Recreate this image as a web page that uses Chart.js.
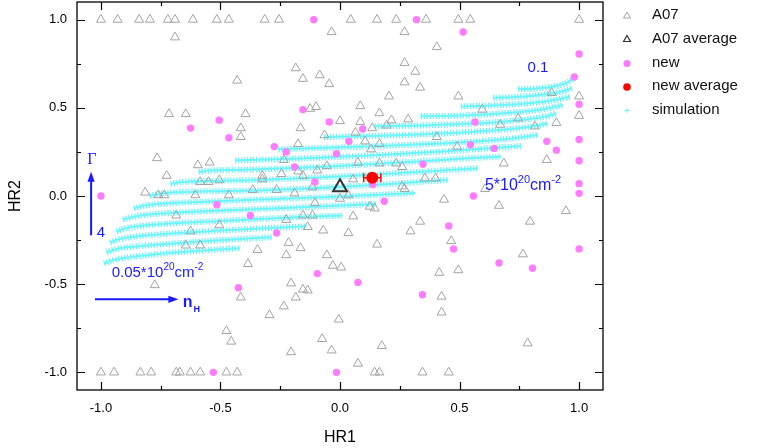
<!DOCTYPE html>
<html>
<head>
<meta charset="utf-8">
<script src="https://cdn.jsdelivr.net/npm/chart.js@4.4.0/dist/chart.umd.min.js"></script>
<style>
  html, body { margin: 0; padding: 0; background: #fff; }
  #wrap { width: 763px; height: 448px; }
</style>
</head>
<body>
<div id="wrap"><canvas id="c" width="763" height="448"></canvas></div>
<script>
// ---- hardness-ratio data ----
// A07 sample (open grey triangles): HR1 / HR2
const a07HR1 = [
  // HR2 = 1 row
  -1.0, -0.93, -0.84, -0.795, -0.72, -0.69, -0.615, -0.515, -0.465, -0.315, -0.255, 0.045, 0.155, 0.235, 0.36, 0.495, 0.545, 1.0,
  // HR2 = -1 row
  -1.0, -0.945, -0.835, -0.79, -0.685, -0.67, -0.625, -0.585, -0.475, -0.43, 0.145, 0.165, 0.345, 0.455,
  // interior
  -0.69, -0.43, -0.185, -0.155, -0.085, -0.045, -0.035, -0.715, -0.645, -0.395,
  -0.415, -0.415, -0.125, -0.10, -0.165, -0.065, 0.0, -0.175, -0.765, -0.595,
  -0.545, -0.725, -0.235, -0.175, -0.155, -0.245, -0.095, -0.055, -0.325, -0.325,
  -0.585, -0.55, -0.505, -0.365, -0.265, -0.19, -0.815, -0.76, -0.735, -0.605,
  -0.465, 0.27, 0.405, 0.27, 0.315, 0.27, 0.335, 0.205, 0.495, 0.085,
  0.165, 0.085, 0.215, 0.285, 0.135, 0.195, 0.065, 0.105, 0.165, 0.405,
  0.13, 0.67, 0.595, 0.745, 0.815, 0.905, 0.885, 1.0, 1.0, 0.49,
  0.865, 0.685, 0.075, 0.165, 0.235, 0.26, 0.055, 0.355, 0.40, 0.26,
  0.27, 0.607, 0.035, 0.0, -0.115, -0.685, -0.625, -0.645, -0.585, -0.505,
  -0.225, -0.155, -0.115, -0.105, -0.135, -0.07, -0.215, -0.165, -0.225, -0.345,
  -0.385, -0.055, -0.03, 0.005, -0.775, -0.415, -0.205, -0.155, -0.135, -0.185,
  -0.235, -0.295, -0.475, -0.455, -0.075, -0.205, -0.035, -0.005, 0.125, 0.145,
  0.055, 0.435, 0.665, 0.945, 0.335, 0.795, 0.035, 0.295, 0.155, 0.465,
  0.765, 0.415, 0.495, 0.425, 0.425, 0.175, 0.075, 0.785
];
const a07HR2 = [
  1, 1, 1, 1, 1, 1, 1, 1, 1, 1, 1, 1, 1, 1, 1, 1, 1, 1,
  -1, -1, -1, -1, -1, -1, -1, -1, -1, -1, -1, -1, -1, -1,
  0.90, 0.655, 0.725, 0.665, 0.685, 0.635, 0.93, 0.465, 0.465, 0.465,
  0.385, 0.335, 0.495, 0.505, 0.385, 0.345, 0.425, 0.295, 0.215, 0.175,
  0.19, 0.115, 0.205, 0.14, 0.115, 0.125, 0.145, 0.17, 0.115, 0.095,
  0.08, 0.08, 0.09, 0.035, 0.035, 0.015, 0.02, 0.005, 0.005, 0.005,
  0.005, 0.93, 0.845, 0.755, 0.705, 0.645, 0.615, 0.565, 0.565, 0.51,
  0.47, 0.42, 0.43, 0.435, 0.385, 0.40, 0.36, 0.31, 0.295, 0.335,
  0.265, 0.405, 0.49, 0.44, 0.395, 0.415, 0.585, 0.565, 0.455, 0.28,
  0.205, 0.185, 0.19, 0.185, 0.185, 0.165, 0.095, 0.10, 0.10, 0.055,
  0.04, 0.04, 0.005, -0.015, 0.05, -0.11, -0.20, -0.28, -0.28, -0.165,
  -0.135, -0.11, -0.11, -0.04, -0.175, -0.195, -0.265, -0.295, -0.335, -0.305,
  -0.385, -0.335, -0.395, -0.405, -0.505, -0.575, -0.495, -0.53, -0.535, -0.575,
  -0.625, -0.675, -0.765, -0.825, -0.81, -0.885, -0.875, -0.70, -0.06, -0.07,
  -0.115, -0.02, -0.055, -0.085, -0.145, -0.145, -0.21, -0.20, -0.275, -0.255,
  -0.33, -0.435, -0.42, -0.57, -0.66, -0.85, -0.95, -0.835
];

// A07 mean
const a07AvgHR1 = [0.0];
const a07AvgHR2 = [0.05];

// new sample (filled magenta circles)
const newHR1 = [
  -0.11, 0.32, 0.515, 1.0, 0.98, 1.0, -0.625, -0.505, -0.465, -0.155,
  -0.045, -0.275, -0.225, -0.19, -0.015, -0.105, -1.0, 0.565, 0.095, 0.037,
  0.545, 0.645, 0.865, 0.905, 1.0, 1.0, 1.0, 1.0, 0.347, 0.137,
  0.558, 0.185, -0.515, -0.375, -0.265, -0.095, -0.425, -0.53, -0.015, 0.455,
  0.475, 1.0, 0.665, 0.805, 0.075, 0.345
];
const newHR2 = [
  1.0, 1.0, 0.93, 0.805, 0.675, 0.52, 0.385, 0.43, 0.33, 0.49,
  0.42, 0.28, 0.25, 0.165, 0.24, 0.08, 0.0, 0.42, 0.38, 0.31,
  0.29, 0.27, 0.31, 0.26, 0.32, 0.20, 0.07, 0.015, 0.18, 0.065,
  0.0, -0.03, -0.05, -0.11, -0.21, -0.44, -0.52, -1.0, -1.0, -0.17,
  -0.30, -0.30, -0.38, -0.41, -0.49, -0.56
];

// new-sample mean with its HR1 uncertainty
const newAvgHR1 = [0.135];
const newAvgHR2 = [0.104];
const newAvgErrHR1 = [0.036];

// simulated hardness ratios: one track per model curve (Γ = 4 at the bottom ... 0.1 at the top)
const simHR1 = [
  [-0.987, -0.954, -0.899, -0.816, -0.690, -0.544, -0.418],
  [-0.977, -0.941, -0.878, -0.753, -0.586, -0.418, -0.286],
  [-0.962, -0.920, -0.857, -0.711, -0.502, -0.293, -0.140],
  [-0.935, -0.891, -0.816, -0.627, -0.376, -0.167, 0.010],
  [-0.908, -0.857, -0.774, -0.586, -0.335, -0.084, 0.151],
  [-0.862, -0.816, -0.732, -0.544, -0.335, 0.000, 0.314],
  [-0.796, -0.761, -0.690, -0.544, -0.343, -0.084, 0.209, 0.452],
  [-0.709, -0.669, -0.586, -0.343, -0.084, 0.251, 0.452, 0.577],
  [-0.591, -0.544, -0.460, -0.343, -0.042, 0.251, 0.502, 0.675],
  [-0.439, -0.376, -0.167, 0.167, 0.460, 0.669, 0.758],
  [-0.258, -0.084, 0.167, 0.418, 0.627, 0.753, 0.828],
  [-0.067, 0.125, 0.335, 0.544, 0.711, 0.816, 0.870],
  [0.145, 0.335, 0.502, 0.669, 0.795, 0.870, 0.906],
  [0.337, 0.502, 0.669, 0.795, 0.878, 0.934],
  [0.505, 0.627, 0.753, 0.857, 0.920, 0.962],
  [0.641, 0.732, 0.816, 0.887, 0.937, 0.969],
  [0.745, 0.816, 0.878, 0.920, 0.954, 0.976]
];
const simHR2 = [
  [-0.383, -0.366, -0.351, -0.337, -0.320, -0.306, -0.296],
  [-0.320, -0.303, -0.289, -0.275, -0.258, -0.244, -0.234],
  [-0.264, -0.244, -0.230, -0.213, -0.196, -0.181, -0.172],
  [-0.201, -0.181, -0.167, -0.150, -0.133, -0.119, -0.111],
  [-0.133, -0.116, -0.102, -0.088, -0.074, -0.060, -0.045],
  [-0.070, -0.054, -0.043, -0.031, -0.020, -0.003, 0.017],
  [0.000, 0.012, 0.021, 0.027, 0.031, 0.046, 0.068, 0.091],
  [0.068, 0.078, 0.084, 0.091, 0.105, 0.130, 0.147, 0.157],
  [0.136, 0.144, 0.148, 0.151, 0.167, 0.190, 0.211, 0.223],
  [0.202, 0.204, 0.213, 0.232, 0.255, 0.275, 0.283],
  [0.265, 0.272, 0.283, 0.298, 0.315, 0.332, 0.346],
  [0.334, 0.340, 0.349, 0.363, 0.380, 0.397, 0.412],
  [0.395, 0.400, 0.408, 0.420, 0.437, 0.454, 0.469],
  [0.452, 0.456, 0.468, 0.482, 0.499, 0.516],
  [0.508, 0.513, 0.522, 0.536, 0.550, 0.563],
  [0.557, 0.561, 0.570, 0.581, 0.595, 0.611],
  [0.605, 0.609, 0.618, 0.629, 0.646, 0.667]
];

// axis ticks (major every 0.5, minor every 0.25)
const axisTicks = [-1.0, -0.75, -0.5, -0.25, 0.0, 0.25, 0.5, 0.75, 1.0];

// ---- styling ----
const FONT = "'Liberation Sans', Arial, sans-serif";
const BLUE = '#1a1aff';
const CYAN = 'rgb(110, 245, 250)';
const GREY_TRI = '#a4a4a4';
const MAGENTA = '#ff7bff';
const RED = '#ff0000';

const pairs = (xs, ys) => xs.map((x, i) => ({ x, y: ys[i] }));
const isMajor = v => Math.abs(v * 2 - Math.round(v * 2)) < 1e-9;

const datasets = [
  {
    label: 'new average', data: pairs(newAvgHR1, newAvgHR2), order: 0,
    pointStyle: 'circle', pointRadius: 6, pointBackgroundColor: RED, pointBorderWidth: 0, pointBorderColor: RED
  },
  {
    label: 'A07 average', data: pairs(a07AvgHR1, a07AvgHR2), order: 1,
    pointStyle: 'triangle', pointRadius: 8, pointBackgroundColor: 'rgba(0,0,0,0)',
    pointBorderColor: '#333333', pointBorderWidth: 2
  },
  {
    label: 'new', data: pairs(newHR1, newHR2), order: 2,
    pointStyle: 'circle', pointRadius: 3.7, pointBackgroundColor: MAGENTA, pointBorderWidth: 0, pointBorderColor: MAGENTA
  },
  {
    label: 'A07', data: pairs(a07HR1, a07HR2), order: 3,
    pointStyle: 'triangle', pointRadius: 5.2, pointBackgroundColor: 'rgba(0,0,0,0)',
    pointBorderColor: GREY_TRI, pointBorderWidth: 1
  }
];

// each simulated track: a core line plus a wide dashed stroke that gives the "+" hatching
simHR1.forEach((xs, k) => {
  const pts = pairs(xs, simHR2[k]);
  const common = {
    data: pts, showLine: true, pointRadius: 0, pointHoverRadius: 0, order: 9,
    tension: 0.4, cubicInterpolationMode: 'monotone', borderColor: CYAN, fill: false
  };
  datasets.push(Object.assign({ label: k === 0 ? 'simulation' : '', borderWidth: 2 }, common));
  datasets.push(Object.assign({ label: '', borderWidth: 6, borderDash: [1.3, 1.7] }, common));
});

// frame with inward ticks on all four sides
const framePlugin = {
  id: 'frame',
  afterDatasetsDraw(chart) {
    const { ctx, chartArea: a, scales: { x, y } } = chart;
    ctx.save();
    ctx.strokeStyle = '#000';
    ctx.lineWidth = 1.3;
    ctx.strokeRect(a.left, a.top, a.right - a.left, a.bottom - a.top);
    ctx.lineWidth = 1.2;
    ctx.beginPath();
    axisTicks.forEach(v => {
      const len = isMajor(v) ? 8 : 4;
      const px = Math.round(x.getPixelForValue(v)) + 0.5;
      ctx.moveTo(px, a.bottom); ctx.lineTo(px, a.bottom - len);
      ctx.moveTo(px, a.top); ctx.lineTo(px, a.top + len);
      const py = Math.round(y.getPixelForValue(v)) + 0.5;
      ctx.moveTo(a.left, py); ctx.lineTo(a.left + len, py);
      ctx.moveTo(a.right, py); ctx.lineTo(a.right - len, py);
    });
    ctx.stroke();
    ctx.restore();
  }
};

// horizontal error bar on the new-sample mean
const errorBarPlugin = {
  id: 'errbar',
  afterDatasetsDraw(chart) {
    const { ctx, scales: { x, y } } = chart;
    ctx.save();
    ctx.strokeStyle = RED;
    ctx.lineWidth = 1.5;
    newAvgHR1.forEach((v, i) => {
      const py = y.getPixelForValue(newAvgHR2[i]);
      const x0 = x.getPixelForValue(v - newAvgErrHR1[i]);
      const x1 = x.getPixelForValue(v + newAvgErrHR1[i]);
      ctx.beginPath();
      ctx.moveTo(x0, py); ctx.lineTo(x1, py);
      ctx.moveTo(x0, py - 4.5); ctx.lineTo(x0, py + 4.5);
      ctx.moveTo(x1, py - 4.5); ctx.lineTo(x1, py + 4.5);
      ctx.stroke();
    });
    ctx.restore();
  }
};

// text with superscripts: parts = [[text, isSup], ...]
function drawRich(ctx, parts, x0, baseY, size) {
  let xx = x0;
  parts.forEach(([t, sup]) => {
    ctx.font = (sup ? Math.round(size * 0.68) : size) + 'px ' + FONT;
    ctx.textBaseline = 'alphabetic';
    ctx.textAlign = 'left';
    ctx.fillText(t, xx, sup ? baseY - size * 0.42 : baseY);
    xx += ctx.measureText(t).width;
  });
}

function arrow(ctx, x0, y0, x1, y1) {
  const ang = Math.atan2(y1 - y0, x1 - x0);
  const hl = 10, hw = 3.6;
  ctx.beginPath();
  ctx.moveTo(x0, y0);
  ctx.lineTo(x1 - Math.cos(ang) * hl * 0.8, y1 - Math.sin(ang) * hl * 0.8);
  ctx.stroke();
  ctx.beginPath();
  ctx.moveTo(x1, y1);
  ctx.lineTo(x1 - Math.cos(ang) * hl - Math.sin(ang) * hw, y1 - Math.sin(ang) * hl + Math.cos(ang) * hw);
  ctx.lineTo(x1 - Math.cos(ang) * hl + Math.sin(ang) * hw, y1 - Math.sin(ang) * hl - Math.cos(ang) * hw);
  ctx.closePath();
  ctx.fill();
}

// model-grid annotations (column density and photon index)
const annotationPlugin = {
  id: 'notes',
  afterDatasetsDraw(chart) {
    const { ctx, scales: { x, y } } = chart;
    const X = v => x.getPixelForValue(v), Y = v => y.getPixelForValue(v);
    ctx.save();
    ctx.fillStyle = BLUE;
    ctx.strokeStyle = BLUE;
    ctx.lineWidth = 2;

    // Γ arrow
    arrow(ctx, X(-1.041), Y(-0.223), X(-1.041), Y(0.138));
    ctx.font = "16px 'Liberation Serif', 'Times New Roman', serif";
    ctx.textAlign = 'center'; ctx.textBaseline = 'middle';
    ctx.fillText('Γ', X(-1.038), Y(0.204));
    ctx.font = '15px ' + FONT;
    ctx.fillText('4', X(-1.0), Y(-0.207));

    // nH arrow
    arrow(ctx, X(-1.025), Y(-0.586), X(-0.676), Y(-0.586));
    ctx.textAlign = 'left'; ctx.textBaseline = 'alphabetic';
    ctx.font = 'bold 16px ' + FONT;
    ctx.fillText('n', X(-0.658), Y(-0.629));
    const nw = ctx.measureText('n').width;
    ctx.font = 'bold 9px ' + FONT;
    ctx.fillText('H', X(-0.658) + nw + 1, Y(-0.629) + 5);

    // curve-family labels
    ctx.font = '15px ' + FONT;
    ctx.textAlign = 'center'; ctx.textBaseline = 'middle';
    ctx.fillText('0.1', X(0.828), Y(0.726));
    drawRich(ctx, [['5*10', false], ['20', true], ['cm', false], ['-2', true]], X(0.606), Y(0.034), 16);
    drawRich(ctx, [['0.05*10', false], ['20', true], ['cm', false], ['-2', true]], X(-0.955), Y(-0.457), 15);
    ctx.restore();
  }
};

// legend block to the right of the frame
const legendPlugin = {
  id: 'sideLegend',
  afterDraw(chart) {
    const { ctx } = chart;
    const sx = 627, tx = 652, rows = [15, 38.5, 62.5, 86, 109.5];
    const entries = [
      { text: 'A07', draw: (cx, cy) => tri(cx, cy, 4, GREY_TRI, 1) },
      { text: 'A07 average', draw: (cx, cy) => tri(cx, cy, 4, '#333333', 1.2) },
      { text: 'new', draw: (cx, cy) => dot(cx, cy, 3.6, MAGENTA) },
      { text: 'new average', draw: (cx, cy) => dot(cx, cy, 3.8, RED) },
      { text: 'simulation', draw: (cx, cy) => cross(cx, cy, 2.5, CYAN) }
    ];
    function tri(cx, cy, r, col, lw) {
      ctx.beginPath();
      ctx.moveTo(cx, cy - r);
      ctx.lineTo(cx + r * 0.866, cy + r * 0.5);
      ctx.lineTo(cx - r * 0.866, cy + r * 0.5);
      ctx.closePath();
      ctx.strokeStyle = col; ctx.lineWidth = lw; ctx.stroke();
    }
    function dot(cx, cy, r, col) {
      ctx.beginPath(); ctx.arc(cx, cy, r, 0, Math.PI * 2); ctx.fillStyle = col; ctx.fill();
    }
    function cross(cx, cy, r, col) {
      ctx.beginPath();
      ctx.moveTo(cx - r, cy); ctx.lineTo(cx + r, cy);
      ctx.moveTo(cx, cy - r); ctx.lineTo(cx, cy + r);
      ctx.strokeStyle = col; ctx.lineWidth = 1; ctx.stroke();
    }
    ctx.save();
    entries.forEach((e, i) => {
      e.draw(sx, rows[i] + 1);
      ctx.fillStyle = '#111';
      ctx.font = '15px ' + FONT;
      ctx.textAlign = 'left'; ctx.textBaseline = 'middle';
      ctx.fillText(e.text, tx, rows[i]);
    });
    ctx.restore();
  }
};

new Chart(document.getElementById('c'), {
  type: 'scatter',
  data: { datasets },
  options: {
    responsive: false,
    animation: false,
    events: [],
    layout: { autoPadding: false, padding: { left: 0, right: 160, top: 2, bottom: 0 } },
    plugins: { legend: { display: false }, tooltip: { enabled: false } },
    scales: {
      x: {
        type: 'linear', min: -1.1, max: 1.1,
        afterBuildTicks: s => { s.ticks = axisTicks.map(v => ({ value: v })); },
        afterFit: s => { s.height = 58; s.paddingLeft = 0; s.paddingRight = 0; },
        grid: { display: false, drawTicks: false },
        border: { display: false },
        ticks: {
          autoSkip: false, maxRotation: 0, padding: 11, color: '#000',
          font: { family: FONT, size: 13 },
          callback: v => isMajor(v) ? v.toFixed(1) : ''
        },
        title: { display: true, text: 'HR1', color: '#000', font: { family: FONT, size: 16 }, padding: { top: 0, bottom: 1 } }
      },
      y: {
        type: 'linear', min: -1.1, max: 1.1,
        afterBuildTicks: s => { s.ticks = axisTicks.map(v => ({ value: v })); },
        afterFit: s => { s.width = 77; s.paddingTop = 0; s.paddingBottom = 0; },
        grid: { display: false, drawTicks: false },
        border: { display: false },
        ticks: {
          autoSkip: false, padding: 10, color: '#000',
          font: { family: FONT, size: 13 },
          callback: v => isMajor(v) ? v.toFixed(1) : ''
        },
        title: { display: true, text: 'HR2', color: '#000', font: { family: FONT, size: 16 }, padding: { top: 6, bottom: 0 } }
      }
    }
  },
  plugins: [framePlugin, errorBarPlugin, annotationPlugin, legendPlugin]
});
</script>
</body>
</html>
